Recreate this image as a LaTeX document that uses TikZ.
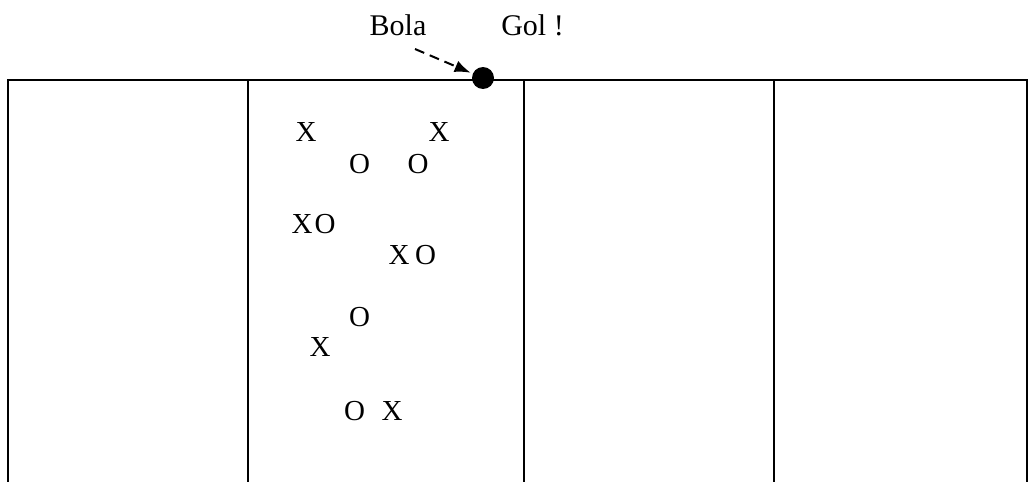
\documentclass[tikz,border=0pt]{standalone}
\usepackage{fontspec}
\setmainfont{Liberation Serif}
\usetikzlibrary{arrows.meta}

\begin{document}
\begin{tikzpicture}[x=0.5pt, y=-0.5pt, >={Latex[length=8pt, width=6pt]},
  field/.style={line width=1.1pt},
  player/.style={inner sep=0pt, font=\fontsize{14.5}{17}\selectfont},
  label/.style={inner sep=0pt, anchor=base, font=\fontsize{15}{18}\selectfont}]

  \useasboundingbox (0, 0) rectangle (1029, 482);

  % --- 1. 線 (上の線と縦の線) ---
  \draw[field] (8, 482) -- (8, 80) -- (1027, 80) -- (1027, 482);
  \draw[field] (248, 80) -- (248, 482);
  \draw[field] (524, 80) -- (524, 482);
  \draw[field] (774, 80) -- (774, 482);

  % --- 2. ボールとラベル ---
  \node[circle, fill=black, minimum size=11pt, inner sep=0pt] (Ball) at (483, 78) {};
  \node[label] (Bola) at (398, 35) {Bola};
  \node[label] (Gol) at (532.5, 35) {Gol !};
  \coordinate (BolaTail) at (415, 49);
  \draw[->, dash pattern=on 5pt off 3pt, line width=1pt, shorten >=1pt]
    (BolaTail) -- (Ball);

  % --- 3. 選手 X と O ---
  \node[player] (XA) at (306, 132) {X};
  \node[player] (XB) at (439, 132) {X};
  \node[player] (OA) at (359.5, 164) {O};
  \node[player] (OB) at (418, 164) {O};

  \node[player] (XC) at (302, 224) {X};
  \node[player] (OC) at (325, 224) {O};
  \node[player] (XD) at (399, 255) {X};
  \node[player] (OD) at (425.5, 255) {O};

  \node[player] (OE) at (359.5, 317.5) {O};
  \node[player] (XE) at (320, 347) {X};

  \node[player] (OF) at (354.5, 411) {O};
  \node[player] (XF) at (392, 411) {X};

\end{tikzpicture}
\end{document}
